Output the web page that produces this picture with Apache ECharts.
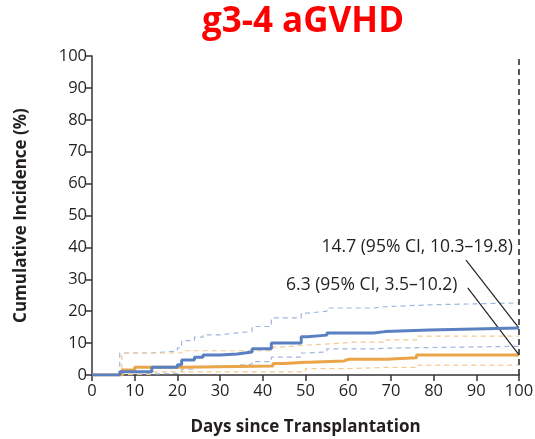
<!DOCTYPE html>
<html>
<head>
<meta charset="utf-8">
<script src="https://cdn.jsdelivr.net/npm/echarts@6/dist/echarts.min.js"></script>
<style>
  html, body { margin: 0; padding: 0; background: #fff; }
  #chart { width: 535px; height: 439px; }
</style>
</head>
<body>
<div id="chart"></div>
<script>
// Cumulative incidence of grade 3-4 acute GVHD, step curves with 95% CI bands
const xTicks = [0, 10, 20, 30, 40, 50, 60, 70, 80, 90, 100];
const yTicks = [0, 10, 20, 30, 40, 50, 60, 70, 80, 90, 100];

// Blue group: event days and cumulative incidence (%) after each step
const blueDays  = [0, 6.5, 14, 20, 21, 24, 26, 30, 34, 37.5, 42, 49, 50.5, 55, 66, 68.6, 79, 100];
const blueValue = [0, 1.0, 2.4, 3.2, 4.7, 5.6, 6.3, 6.6, 7.2, 8.2, 10.0, 12.0, 12.5, 13.2, 13.6, 14.1, 14.7, 14.7];
const blueUpper = [0, 6.9, 7.5, 8.5, 10.8, 11.9, 12.6, 13.2, 13.6, 15.2, 17.9, 19.4, 20.0, 21.0, 21.4, 22.0, 22.6, 22.6];
const blueLower = [0, 0.3, 0.5, 1.0, 1.8, 2.5, 2.8, 3.0, 3.4, 4.2, 5.6, 6.9, 7.2, 8.2, 8.4, 8.6, 9.0, 9.0];

// Orange group
const orangeDays  = [0, 7, 10, 14, 21, 42.4, 45, 50, 51, 59, 60, 69, 76, 100];
const orangeValue = [0, 1.6, 2.4, 2.4, 2.8, 3.6, 4.0, 4.0, 4.4, 4.9, 4.9, 5.4, 6.3, 6.3];
const orangeUpper = [0, 6.9, 6.9, 6.9, 7.6, 8.8, 9.4, 9.4, 10.0, 10.3, 10.3, 11.0, 12.2, 12.2];
const orangeLower = [0, 0.3, 0.3, 1.0, 1.0, 1.0, 1.0, 2.0, 2.0, 2.0, 2.4, 2.4, 3.1, 3.1];

// Summary estimates at day 100
const blueSummary   = { est: 14.7, lo: 10.3, hi: 19.8 };
const orangeSummary = { est: 6.3,  lo: 3.5,  hi: 10.2 };
const summaryDay = 100;

const BLUE = '#5b80c2';
const BLUE_CI = '#9fb6e0';
const ORANGE = '#e9a548';
const ORANGE_CI = '#f4c98c';
const INK = '#231f20';
const FONT = '"Open Sans", "Noto Sans", sans-serif';

const zip = (xs, ys) => xs.map((x, i) => [x, ys[i]]);

function stepSeries(name, days, vals, color, width, dashed, z) {
  return {
    name: name,
    type: 'line',
    step: 'end',
    data: zip(days, vals),
    symbol: 'none',
    silent: true,
    z: z,
    lineStyle: { color: color, width: width, type: dashed ? [5, 4] : 'solid' },
    animation: false
  };
}

const fmt = s => `${s.est} (95% CI, ${s.lo}\u2013${s.hi})`;

const chart = echarts.init(document.getElementById('chart'));
const option = {
  animation: false,
  title: {
    text: 'g3-4 aGVHD',
    left: 298,
    top: 0,
    textAlign: 'center',
    textStyle: { color: '#ff0000', fontSize: 35, fontWeight: 'bold', fontFamily: FONT }
  },
  grid: { left: 92, right: 16, top: 56, bottom: 64, containLabel: false, outerBoundsMode: 'none' },
  xAxis: {
    type: 'value',
    min: 0, max: 100, interval: 10,
    name: 'Days since Transplantation',
    nameLocation: 'middle',
    nameGap: 44,
    nameTextStyle: { fontSize: 17, fontWeight: 'bold', color: INK, fontFamily: FONT },
    axisLine: { lineStyle: { color: '#333', width: 1.5 } },
    axisTick: { length: 6, lineStyle: { color: '#333', width: 1.5 } },
    axisLabel: {
      fontSize: 16.5, color: INK, margin: 8, fontFamily: FONT,
      formatter: v => (xTicks.includes(v) ? String(v) : '')
    },
    splitLine: { show: false }
  },
  yAxis: {
    type: 'value',
    min: 0, max: 100, interval: 10,
    name: 'Cumulative Incidence (%)',
    nameLocation: 'middle',
    nameGap: 62,
    nameTextStyle: { fontSize: 17, fontWeight: 'bold', color: INK, fontFamily: FONT },
    axisLine: { show: true, lineStyle: { color: '#333', width: 1.5 } },
    axisTick: { show: true, length: 6, lineStyle: { color: '#333', width: 1.5 } },
    axisLabel: {
      fontSize: 16.5, color: INK, margin: 5, fontFamily: FONT,
      formatter: v => (yTicks.includes(v) ? String(v) : '')
    },
    splitLine: { show: false }
  },
  series: [
    stepSeries('blueUpper', blueDays, blueUpper, BLUE_CI, 1.2, true, 2),
    stepSeries('blueLower', blueDays, blueLower, BLUE_CI, 1.2, true, 2),
    stepSeries('orangeUpper', orangeDays, orangeUpper, ORANGE_CI, 1.2, true, 2),
    stepSeries('orangeLower', orangeDays, orangeLower, ORANGE_CI, 1.2, true, 2),
    stepSeries('orange', orangeDays, orangeValue, ORANGE, 3, false, 4),
    Object.assign(stepSeries('blue', blueDays, blueValue, BLUE, 3, false, 5), {
      markLine: {
        silent: true,
        symbol: 'none',
        animation: false,
        label: { show: false },
        data: [
          [{ coord: [summaryDay, 0], lineStyle: { color: '#222', width: 1.5, type: [6, 4] } },
           { coord: [summaryDay, 100] }],
          [{ coord: [87.6, 36.0], lineStyle: { color: '#222', width: 1.2, type: 'solid' } },
           { coord: [summaryDay, blueSummary.est] }],
          [{ coord: [88.0, 27.3], lineStyle: { color: '#222', width: 1.2, type: 'solid' } },
           { coord: [summaryDay, orangeSummary.est] }]
        ]
      }
    }),
    {
      name: 'summaryText',
      type: 'scatter',
      symbolSize: 0,
      silent: true,
      z: 6,
      itemStyle: { opacity: 1 },
      data: [
        { value: [98.6, 40.0], label: { formatter: fmt(blueSummary) } },
        { value: [85.6, 28.3], label: { formatter: fmt(orangeSummary) } }
      ],
      label: {
        show: true,
        position: 'left',
        distance: 0,
        fontSize: 17.5,
        color: INK,
        opacity: 1,
        fontFamily: FONT
      }
    }
  ]
};
chart.setOption(option);
</script>
</body>
</html>
